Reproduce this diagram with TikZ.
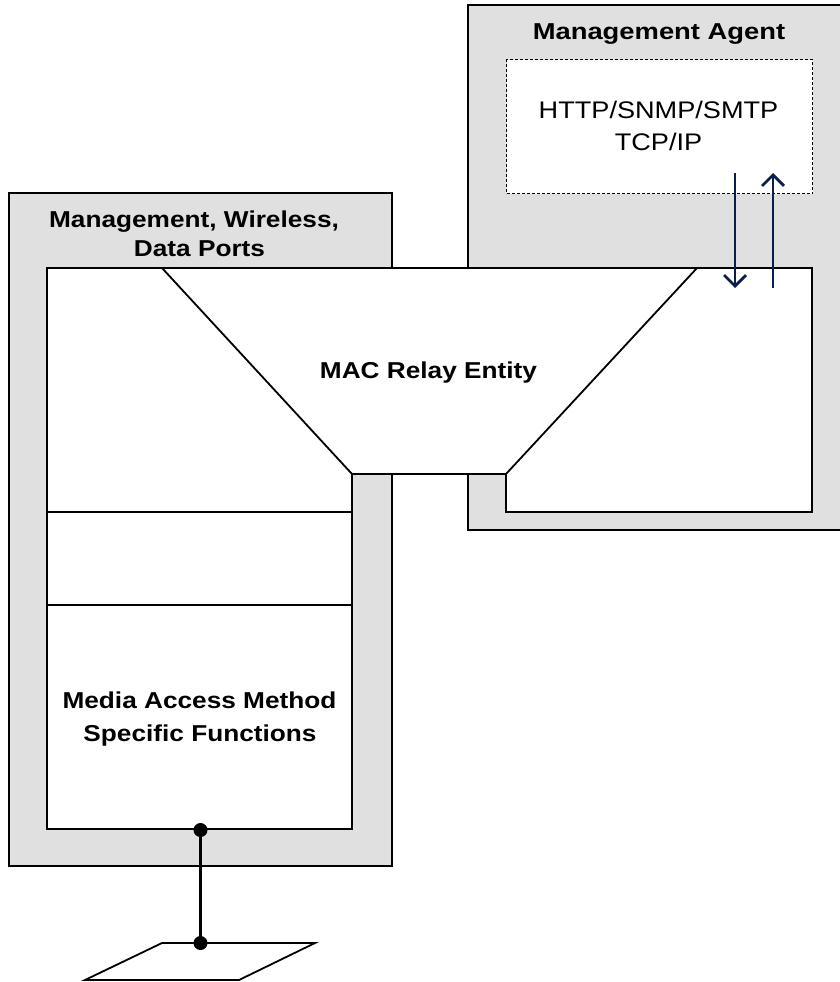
\documentclass[tikz,border=0pt]{standalone}
\usepackage{fontspec}
\setmainfont{Liberation Sans}
\newfontfamily\labfont[FakeStretch=1.14]{Liberation Sans}
\newfontfamily\agentfont[FakeStretch=1.19]{Liberation Sans}
\newfontfamily\protofont[FakeStretch=1.13]{Liberation Sans}
\usetikzlibrary{arrows.meta}
\definecolor{boxgray}{RGB}{224,224,224}
\definecolor{arrownavy}{RGB}{10,30,75}
\tikzset{
  outline/.style={draw=black, line width=1.8pt, line join=miter},
  boldlabel/.style={font=\labfont\bfseries\fontsize{23}{28}\selectfont, inner sep=0pt, anchor=base},
  agentlabel/.style={font=\agentfont\bfseries\fontsize{23}{28}\selectfont, inner sep=0pt, anchor=base},
  protolabel/.style={font=\protofont\fontsize{24}{30}\selectfont, inner sep=0pt, anchor=base},
  dotbox/.style={draw=black, fill=white, line width=1.3pt, dash pattern=on 3pt off 2pt},
  navyarrow/.style={draw=arrownavy, line width=2.8pt, -{Straight Barb[length=11pt,width=22pt]}},
  cable/.style={draw=black, line width=3pt},
  joint/.style={circle, fill=black, minimum size=14pt, inner sep=0pt}
}
\begin{document}
\begin{tikzpicture}[x=1pt, y=-1pt]
\useasboundingbox (0,0) rectangle (840,982);
% Management agent (gray, open on the right)
\fill[boxgray] (468,5) rectangle (840,530);
\draw[outline] (841,5) -- (468,5) -- (468,530) -- (841,530);
% Ports box (gray)
\draw[outline, fill=boxgray] (9,193) rectangle (392,866);
% white region
\draw[outline, fill=white] (47,268) -- (812,268) -- (812,512) -- (506,512) -- (506,474)
  -- (352,474) -- (352,829) -- (47,829) -- cycle;
% MAC relay trapezoid sides
\draw[outline] (162,268) -- (352,474);
\draw[outline] (697,268) -- (506,474);
% layer separators
\draw[outline] (47,512) -- (352,512);
\draw[outline] (47,605) -- (352,605);
% dotted protocol box
\node[dotbox, minimum width=306pt, minimum height=134pt, anchor=north west] (proto) at (506,59) {};
% texts
\node[agentlabel] (agent) at (659,40) {Management Agent};
\node[protolabel] (http) at (658.5,118) {HTTP/SNMP/SMTP};
\node[protolabel] (tcpip) at (658.5,150) {TCP/IP};
\node[boldlabel] (ports1) at (194,227) {Management, Wireless,};
\node[boldlabel] (ports2) at (199.5,256) {Data Ports};
\node[boldlabel] (relay) at (428.5,378) {MAC Relay Entity};
\node[boldlabel] (media1) at (199.5,708) {Media Access Method};
\node[boldlabel] (media2) at (200,741) {Specific Functions};
% arrows between agent and relay
\coordinate (dntop) at (735,173);
\coordinate (dnbot) at (735,288);
\coordinate (uptop) at (773,173);
\coordinate (upbot) at (773,288);
\draw[navyarrow] (dntop) -- (dnbot);
\draw[navyarrow] (upbot) -- (uptop);
% antenna / medium
\node[joint] (jtop) at (200.5,830) {};
\node[joint] (jbot) at (200.5,943) {};
\draw[cable] (jtop.center) -- (jbot.center);
\draw[outline] (162,943) -- (315,943) -- (239,980) -- (85,980) -- cycle;
\end{tikzpicture}
\end{document}
